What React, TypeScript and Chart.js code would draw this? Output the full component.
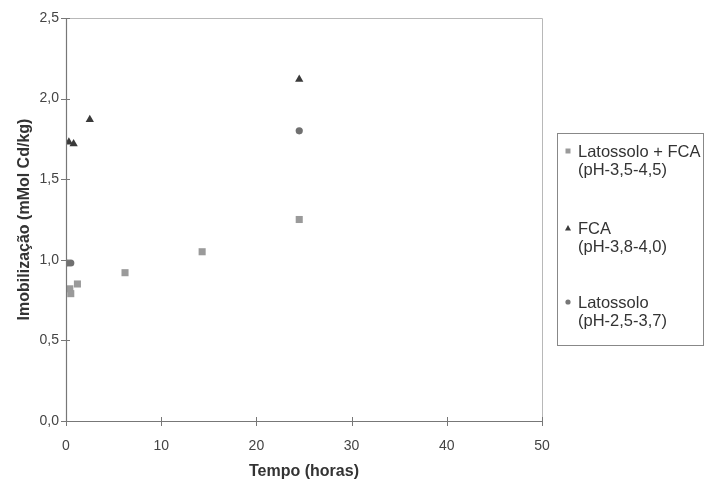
import React, { useEffect, useRef } from "react";
import { Chart, registerables } from "chart.js";

Chart.register(...registerables);

const xTicks = [0, 10, 20, 30, 40, 50];
const yTicks = [0, 0.5, 1.0, 1.5, 2.0, 2.5];

const seriesNames = ["Latossolo + FCA", "FCA", "Latossolo"];
const seriesSub = ["(pH-3,5-4,5)", "(pH-3,8-4,0)", "(pH-2,5-3,7)"];

const latFcaX = [0.4, 0.5, 1.2, 6.2, 14.3, 24.5];
const latFcaY = [0.82, 0.79, 0.85, 0.92, 1.05, 1.25];

const fcaX = [0.3, 0.8, 2.5, 24.5];
const fcaY = [1.73, 1.72, 1.87, 2.12];

const latX = [0.2, 0.5, 24.5];
const latY = [0.98, 0.98, 1.8];

const toPts = (xs: number[], ys: number[]) => xs.map((x, i) => ({ x, y: ys[i] }));

const FONT = "'Liberation Sans', Arial, sans-serif";

const framePlugin = {
  id: "frame",
  afterDraw(chart: any) {
    const { ctx, chartArea } = chart;
    const { left, right, top, bottom } = chartArea;
    const xs = chart.scales.x;
    const ys = chart.scales.y;
    ctx.save();
    // top & right light lines
    ctx.strokeStyle = "#b8b8b8";
    ctx.lineWidth = 1;
    ctx.beginPath();
    ctx.moveTo(left, top + 0.5);
    ctx.lineTo(right + 0.5, top + 0.5);
    ctx.lineTo(right + 0.5, bottom);
    ctx.stroke();
    // left & bottom axes
    ctx.strokeStyle = "#777";
    ctx.lineWidth = 1.2;
    ctx.beginPath();
    ctx.moveTo(left + 0.5, top);
    ctx.lineTo(left + 0.5, bottom + 0.5);
    ctx.lineTo(right + 0.5, bottom + 0.5);
    ctx.stroke();
    // crossing ticks
    ctx.lineWidth = 1;
    ctx.beginPath();
    yTicks.forEach((v) => {
      const py = Math.round(ys.getPixelForValue(v)) + 0.5;
      ctx.moveTo(left - 5, py);
      ctx.lineTo(left + 4, py);
    });
    xTicks.forEach((v) => {
      const px = Math.round(xs.getPixelForValue(v)) + 0.5;
      ctx.moveTo(px, bottom - 4);
      ctx.lineTo(px, bottom + 5);
    });
    ctx.stroke();

    // legend
    const lx = 557, ly = 133, lw = 146, lh = 212;
    ctx.strokeStyle = "#888";
    ctx.lineWidth = 1;
    ctx.strokeRect(lx + 0.5, ly + 0.5, lw, lh);
    ctx.font = `16.5px ${FONT}`;
    ctx.fillStyle = "#333";
    ctx.textBaseline = "middle";
    ctx.textAlign = "left";
    const rows = [151, 228, 302];
    const colors = ["#9a9a9a", "#3a3a3a", "#777"];
    rows.forEach((ry, i) => {
      ctx.fillStyle = "#333";
      ctx.fillText(seriesNames[i], 578, ry + 1);
      ctx.fillText(seriesSub[i], 578, ry + 19);
      ctx.fillStyle = colors[i];
      const mx = 568;
      ctx.beginPath();
      if (i === 0) {
        ctx.rect(mx - 2.5, ry - 2.5, 5, 5);
      } else if (i === 1) {
        ctx.moveTo(mx, ry - 3);
        ctx.lineTo(mx + 3, ry + 2.5);
        ctx.lineTo(mx - 3, ry + 2.5);
        ctx.closePath();
      } else {
        ctx.arc(mx, ry, 2.6, 0, Math.PI * 2);
      }
      ctx.fill();
    });
    ctx.restore();
  },
};

export default function App() {
  const ref = useRef<HTMLCanvasElement>(null);
  useEffect(() => {
    if (!ref.current) return;
    const chart = new Chart(ref.current, {
      type: "scatter",
      data: {
        datasets: [
          {
            label: seriesNames[0],
            data: toPts(latFcaX, latFcaY),
            pointStyle: "rect",
            pointRadius: 5,
            backgroundColor: "#9a9a9a",
            borderColor: "#9a9a9a",
            borderWidth: 0,
          },
          {
            label: seriesNames[1],
            data: toPts(fcaX, fcaY),
            pointStyle: "triangle",
            pointRadius: 4.8,
            backgroundColor: "#3a3a3a",
            borderColor: "#3a3a3a",
            borderWidth: 0,
          },
          {
            label: seriesNames[2],
            data: toPts(latX, latY),
            pointStyle: "circle",
            pointRadius: 3.6,
            backgroundColor: "#707070",
            borderColor: "#707070",
            borderWidth: 0,
          },
        ],
      },
      options: {
        responsive: false,
        animation: false,
        devicePixelRatio: 1,
        layout: { padding: { top: 18, right: 165, left: 0, bottom: 0 } },
        plugins: {
          legend: { display: false },
          tooltip: { enabled: false },
        },
        scales: {
          x: {
            type: "linear",
            min: 0,
            max: 50,
            afterFit: (s: any) => {
              s.height = 61;
            },
            afterBuildTicks: (s: any) => {
              s.ticks = xTicks.map((v) => ({ value: v }));
            },
            grid: { display: false, drawTicks: false },
            border: { display: false },
            ticks: {
              padding: 17,
              color: "#444",
              font: { family: FONT, size: 14 },
              maxRotation: 0,
            },
            title: {
              display: true,
              text: "Tempo (horas)",
              color: "#333",
              font: { family: FONT, size: 16, weight: "bold" },
              padding: { top: 0, bottom: 1 },
            },
          },
          y: {
            type: "linear",
            min: 0,
            max: 2.5,
            afterFit: (s: any) => {
              s.width = 66;
            },
            afterBuildTicks: (s: any) => {
              s.ticks = yTicks.map((v) => ({ value: v }));
            },
            grid: { display: false, drawTicks: false },
            border: { display: false },
            ticks: {
              padding: 7,
              color: "#444",
              font: { family: FONT, size: 14 },
              callback: (v: any) => Number(v).toFixed(1).replace(".", ","),
            },
            title: {
              display: true,
              text: "Imobilização (mMol Cd/kg)",
              color: "#333",
              font: { family: FONT, size: 16, weight: "bold" },
              padding: { top: 15, bottom: 0 },
            },
          },
        },
      },
      plugins: [framePlugin],
    });
    return () => chart.destroy();
  }, []);
  return (
    <div style={{ position: "fixed", left: 0, top: 0, width: 707, height: 482, background: "#fff" }}>
      <canvas ref={ref} width={707} height={482} style={{ width: 707, height: 482 }} />
    </div>
  );
}
